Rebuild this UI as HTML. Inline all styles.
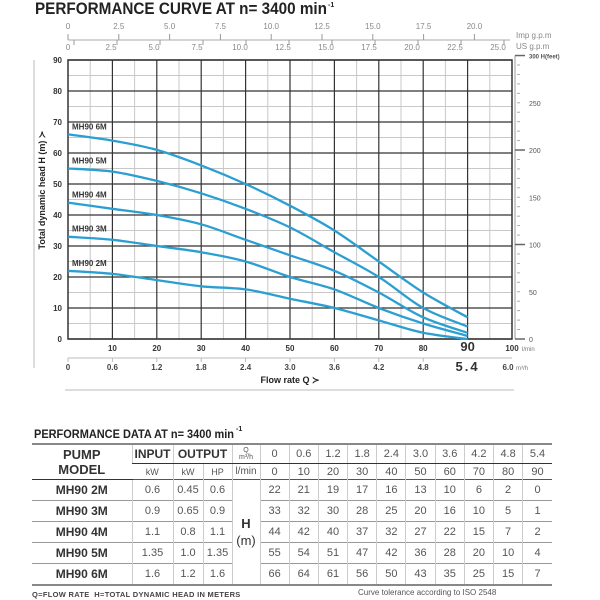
<!DOCTYPE html>
<html><head><meta charset="utf-8">
<style>
body{margin:0;background:#fff;width:600px;height:600px;overflow:hidden;font-family:"Liberation Sans",sans-serif}
svg{position:absolute;left:0;top:0}
table{position:absolute;left:32px;top:443px;border-collapse:collapse;font-family:"Liberation Sans",sans-serif;table-layout:fixed}
td{text-align:center;color:#555;font-size:11px;border-left:1px solid #ccc;padding:0;height:20px;line-height:12px}
td:first-child{border-left:none}
tr.h1 td{height:18px}
tr.h2 td{height:15px}
.m{font-weight:bold;color:#333;font-size:12px}
.hd{font-weight:bold;color:#333;font-size:12px}
.sm{font-size:9px;color:#555}
</style></head><body>
<svg id="chart" width="600" height="440"></svg>
<table>
<colgroup><col style="width:100px"><col style="width:41px"><col style="width:30px"><col style="width:29px"><col style="width:28px"><col span="10" style="width:29.2px"></colgroup>
<tr class="h1" style="border-top:2px solid #888">
<td rowspan="2" class="hd" style="font-size:13px;line-height:15px;border-bottom:1.5px solid #333">PUMP<br>MODEL</td>
<td class="hd" style="border-bottom:1.5px solid #333">INPUT</td>
<td colspan="2" class="hd" style="border-bottom:1.5px solid #333">OUTPUT</td>
<td style="font-size:7px;line-height:7px;border-bottom:1.5px solid #333">Q<br>m³/h</td>
<td style="border-bottom:1.5px solid #333">0</td><td style="border-bottom:1.5px solid #333">0.6</td><td style="border-bottom:1.5px solid #333">1.2</td><td style="border-bottom:1.5px solid #333">1.8</td><td style="border-bottom:1.5px solid #333">2.4</td><td style="border-bottom:1.5px solid #333">3.0</td><td style="border-bottom:1.5px solid #333">3.6</td><td style="border-bottom:1.5px solid #333">4.2</td><td style="border-bottom:1.5px solid #333">4.8</td><td style="border-bottom:1.5px solid #333">5.4</td></tr>
<tr class="h2" style="border-bottom:1.5px solid #555">
<td class="sm">kW</td><td class="sm">kW</td><td class="sm">HP</td><td style="font-size:10px">l/min</td>
<td>0</td><td>10</td><td>20</td><td>30</td><td>40</td><td>50</td><td>60</td><td>70</td><td>80</td><td>90</td></tr>
<tr style="border-bottom:1px solid #999"><td class="m">MH90 2M</td><td>0.6</td><td>0.45</td><td>0.6</td><td rowspan="5" style="font-size:13px;color:#333;line-height:17px;border-left:1px solid #ccc;border-right:1px solid #ccc"><b>H</b><br>(m)</td><td>22</td><td>21</td><td>19</td><td>17</td><td>16</td><td>13</td><td>10</td><td>6</td><td>2</td><td>0</td></tr>
<tr style="border-bottom:1px solid #999"><td class="m">MH90 3M</td><td>0.9</td><td>0.65</td><td>0.9</td><td>33</td><td>32</td><td>30</td><td>28</td><td>25</td><td>20</td><td>16</td><td>10</td><td>5</td><td>1</td></tr>
<tr style="border-bottom:1px solid #999"><td class="m">MH90 4M</td><td>1.1</td><td>0.8</td><td>1.1</td><td>44</td><td>42</td><td>40</td><td>37</td><td>32</td><td>27</td><td>22</td><td>15</td><td>7</td><td>2</td></tr>
<tr style="border-bottom:1px solid #999"><td class="m">MH90 5M</td><td>1.35</td><td>1.0</td><td>1.35</td><td>55</td><td>54</td><td>51</td><td>47</td><td>42</td><td>36</td><td>28</td><td>20</td><td>10</td><td>4</td></tr>
<tr style="border-bottom:2px solid #888"><td class="m">MH90 6M</td><td>1.6</td><td>1.2</td><td>1.6</td><td>66</td><td>64</td><td>61</td><td>56</td><td>50</td><td>43</td><td>35</td><td>25</td><td>15</td><td>7</td></tr>
</table>
<div style="position:absolute;left:32px;top:590px;font-size:7.5px;font-weight:bold;color:#444;letter-spacing:0.3px">Q=FLOW RATE&nbsp; H=TOTAL DYNAMIC HEAD IN METERS</div>
<div style="position:absolute;left:358px;top:588px;font-size:8px;color:#555">Curve tolerance according to ISO 2548</div>
<script>
const flowLmin=[0,10,20,30,40,50,60,70,80,90];
const flowM3h=[0,0.6,1.2,1.8,2.4,3.0,3.6,4.2,4.8,5.4];
const seriesNames=["MH90 2M","MH90 3M","MH90 4M","MH90 5M","MH90 6M"];
const head2M=[22,21,19,17,16,13,10,6,2,0];
const head3M=[33,32,30,28,25,20,16,10,5,1];
const head4M=[44,42,40,37,32,27,22,15,7,2];
const head5M=[55,54,51,47,42,36,28,20,10,4];
const head6M=[66,64,61,56,50,43,35,25,15,7];
const yTicks=[0,10,20,30,40,50,60,70,80,90];
const xTicksLmin=[10,20,30,40,50,60,70,80];
const xTicksM3h=["0","0.6","1.2","1.8","2.4","3.0","3.6","4.2","4.8"];
const impTicks=["0","2.5","5.0","7.5","10.0","12.5","15.0","17.5","20.0"];
const usTicks=["0","2.5","5.0","7.5","10.0","12.5","15.0","17.5","20.0","22.5","25.0"];
const feetTicks=[0,50,100,150,200,250];

const NS="http://www.w3.org/2000/svg";
const svg=document.getElementById('chart');
const X0=68,X1=512,Y0=339,Y1=60;
const xs=v=>X0+(v/100)*(X1-X0);
const ys=v=>Y0-(v/90)*(Y0-Y1);
function el(t,a,p){const e=document.createElementNS(NS,t);for(const k in a)e.setAttribute(k,a[k]);(p||svg).appendChild(e);return e;}
function tx(x,y,s,a){const e=el('text',Object.assign({x:x,y:y,'font-family':'Liberation Sans, sans-serif'},a));e.textContent=s;return e;}

let t=tx(35,14,"PERFORMANCE CURVE AT n= 3400 min",{'font-size':17,'font-weight':'bold',fill:'#222',textLength:292,lengthAdjust:'spacingAndGlyphs'});


t=tx(328,7,"-1",{'font-size':7,'font-weight':'bold',fill:'#222'});



let l=el('line',{x1:34,y1:60,x2:34,y2:368,stroke:'#bbb','stroke-width':1});



l=el('line',{x1:X0,y1:40,x2:510,y2:40,stroke:'#aaa','stroke-width':1});


impTicks.forEach((s,i)=>{const x=X0+i*50.8;
 const k=el('line',{x1:x,y1:34,x2:x,y2:40,stroke:'#999'});
 
 
 const e=tx(x,29,s,{'font-size':8,fill:'#888','text-anchor':'middle'});
 
 });
usTicks.forEach((s,i)=>{const x=X0+i*43;
 const k=el('line',{x1:x+6,y1:40,x2:x+6,y2:45,stroke:'#999'});
 
 
 const e=tx(x,50,s,{'font-size':8,fill:'#888','text-anchor':'middle'});
 
 });
t=tx(516,38,"Imp g.p.m",{'font-size':8,fill:'#888'});


t=tx(516,49,"US g.p.m",{'font-size':8,fill:'#888'});



for(let v=5;v<100;v+=10){const g=el('line',{x1:xs(v),y1:Y1,x2:xs(v),y2:Y0,stroke:'#c8c8c8','stroke-width':1});
 
 }
for(let v=5;v<90;v+=10){const g=el('line',{x1:X0,y1:ys(v),x2:X1,y2:ys(v),stroke:'#c8c8c8','stroke-width':1});
 
 }
for(let v=10;v<100;v+=10){const g=el('line',{x1:xs(v),y1:Y1,x2:xs(v),y2:Y0,stroke:'#333','stroke-width':1.2});
 
 }
yTicks.forEach(v=>{const g=el('line',{x1:X0,y1:ys(v),x2:X1,y2:ys(v),stroke:'#333','stroke-width':1.2});
 
 
 const e=tx(62,ys(v)+3,String(v),{'font-size':8,'font-weight':'bold',fill:'#333','text-anchor':'end'});
 
 });
let r=el('rect',{x:X0,y:Y1,width:X1-X0,height:Y0-Y1,fill:'none',stroke:'#333','stroke-width':1.5});



t=tx(0,0,"Total dynamic head H (m) ≻",{'font-size':9,'font-weight':'bold',fill:'#222','text-anchor':'middle',transform:'translate(45,190) rotate(-90)'});



l=el('line',{x1:515,y1:ys(91.44),x2:515,y2:Y0,stroke:'#999'});


for(let f=0;f<=300;f+=10){const y=ys(f*0.3048);const big=f%100===0;
 const k=el('line',{x1:big?515:517,y1:y,x2:big?525:520,y2:y,stroke:big?'#666':'#aaa','stroke-width':big?1.5:1});
 
 }
feetTicks.forEach(f=>{const e=tx(529,ys(f*0.3048)+3,String(f),{'font-size':7,fill:'#555'});
 
 });
t=tx(529,ys(91.44)+3,"300 H(feet)",{'font-size':6,'font-weight':'bold',fill:'#555'});



xTicksLmin.forEach(v=>{const e=tx(xs(v),351,String(v),{'font-size':8,'font-weight':'bold',fill:'#333','text-anchor':'middle'});
 
 });
t=tx(xs(90),351,"90",{'font-size':13,'font-weight':'bold',fill:'#333','text-anchor':'middle'});


t=tx(xs(100),351,"100",{'font-size':8,'font-weight':'bold',fill:'#333','text-anchor':'middle'});


t=tx(522,351,"l/min",{'font-size':6,fill:'#777'});


l=el('line',{x1:X0,y1:358,x2:X1,y2:358,stroke:'#bbb'});


xTicksM3h.forEach((s,i)=>{const x=xs(i*10);
 const k=el('line',{x1:x,y1:358,x2:x,y2:362,stroke:'#bbb'});
 
 
 const e=tx(x,370,s,{'font-size':8,'font-weight':'bold',fill:'#444','text-anchor':'middle'});
 
 });
t=tx(xs(90),371,"5.4",{'font-size':13,'font-weight':'bold',fill:'#333','text-anchor':'middle','letter-spacing':'2'});


t=tx(xs(100)-4,370,"6.0",{'font-size':8,'font-weight':'bold',fill:'#444','text-anchor':'middle'});


t=tx(516,370,"m³/h",{'font-size':6,fill:'#777'});


t=tx(290,383,"Flow rate Q ≻",{'font-size':9,'font-weight':'bold',fill:'#222','text-anchor':'middle'});


l=el('line',{x1:65,y1:390,x2:514,y2:390,stroke:'#bbb'});



const allHeads=[head2M,head3M,head4M,head5M,head6M];
function pathFor(h){const p=flowLmin.map((q,i)=>[xs(q),ys(h[i])]);
 let d=`M${p[0][0]},${p[0][1]}`;
 for(let i=0;i<p.length-1;i++){const a=p[Math.max(i-1,0)],b=p[i],c=p[i+1],e=p[Math.min(i+2,p.length-1)];
  d+=` C${b[0]+(c[0]-a[0])/6},${b[1]+(c[1]-a[1])/6} ${c[0]-(e[0]-b[0])/6},${c[1]-(e[1]-b[1])/6} ${c[0]},${c[1]}`;}
 return d;}
allHeads.forEach((h,i)=>{const p=el('path',{d:pathFor(h),fill:'none',stroke:'#2b9fd1','stroke-width':2.3});
 
 
 const e=tx(72,ys(h[0])-5,seriesNames[i],{'font-size':8,'font-weight':'bold',fill:'#333'});
 
 });

t=tx(34,438,"PERFORMANCE DATA AT n= 3400 min",{'font-size':12,'font-weight':'bold',fill:'#222',textLength:200,lengthAdjust:'spacingAndGlyphs'});


t=tx(236,431,"-1",{'font-size':7,'font-weight':'bold',fill:'#222'});


</script>
</body></html>
